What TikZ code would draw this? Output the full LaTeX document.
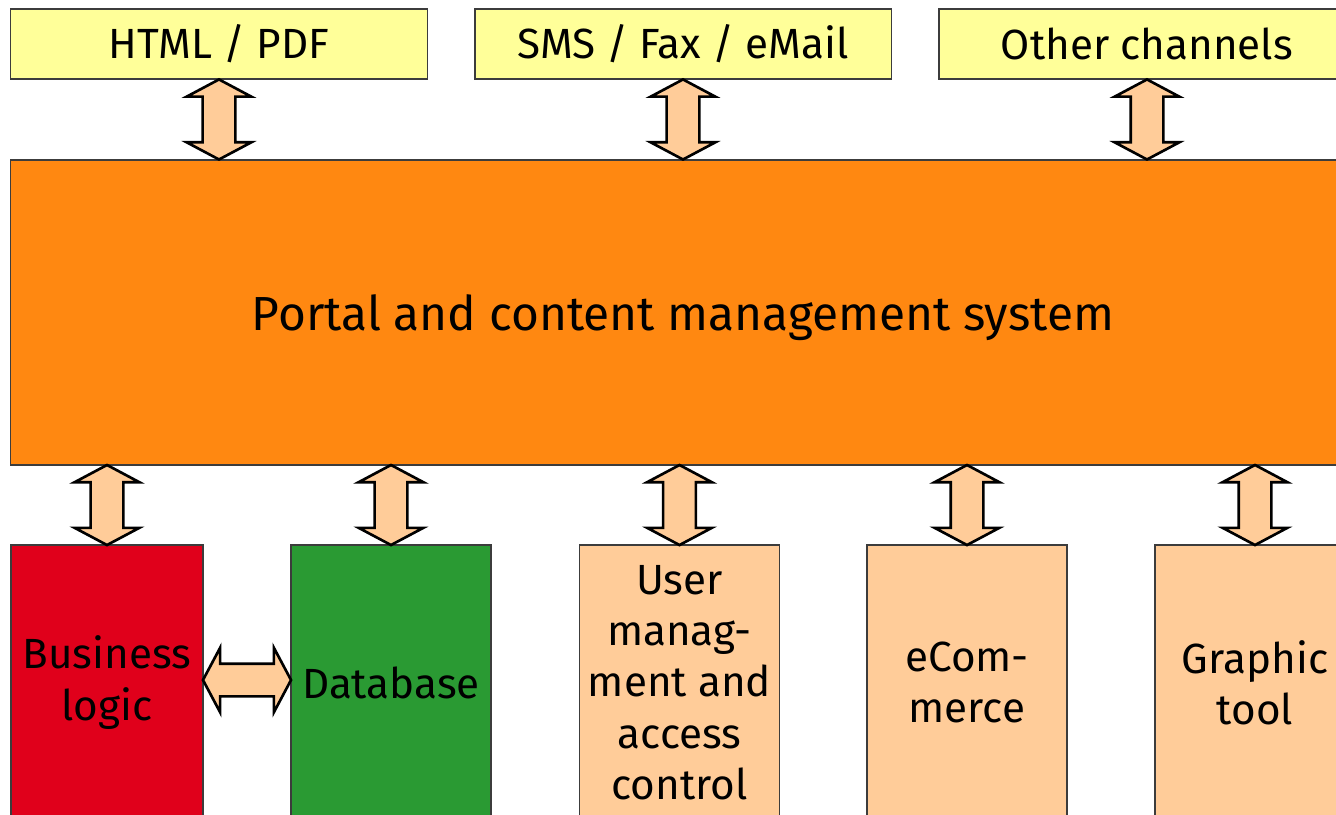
\documentclass[tikz,border=0pt]{standalone}
\usepackage{fontspec}
\setmainfont{Fira Sans}
\usetikzlibrary{shapes.arrows,calc}
\definecolor{chanyellow}{HTML}{FFFF99}
\definecolor{cmsorange}{HTML}{FF8811}
\definecolor{logicred}{HTML}{E0001B}
\definecolor{dbgreen}{HTML}{2A9A33}
\definecolor{peach}{HTML}{FFCC99}
\definecolor{edge}{HTML}{3C3C3C}
\tikzset{
  box/.style     = { draw=edge, line width=0.35pt, rectangle, inner sep=0pt, align=center,
                     font=\fontsize{12pt}{14.6pt}\selectfont },
  channel/.style = { box, fill=chanyellow, minimum width=4.16cm, minimum height=0.70cm },
  module/.style  = { box, fill=peach, minimum width=2.00cm, minimum height=2.75cm },
  dblarrow/.style = { double arrow, draw=black, line width=0.75pt, fill=peach,
                     inner xsep=0pt, inner ysep=0.15cm,
                     minimum width=0.64cm, double arrow head extend=0.16cm,
                     double arrow tip angle=124, minimum height=#1 },
}

\begin{document}
\begin{tikzpicture}[x=0.01cm, y=-0.01cm]
    \fill[white] (0,0) rectangle (1336,814);
    \clip (0,0) rectangle (1336,814);

    % output channels
    \node[channel] (html)  at (219,44)  {HTML / PDF};
    \node[channel] (sms)   at (683,44)  {SMS / Fax / eMail};
    \node[channel] (other) at (1147,44) {Other channels};

    % central system
    \node[box, fill=cmsorange, minimum width=13.44cm, minimum height=3.05cm, text depth=0pt,
          font=\fontsize{13.6pt}{16pt}\selectfont] (cms) at (683,312.5)
        {Portal and content management system};

    % back end modules
    \node[module, fill=logicred, minimum width=1.92cm] (logic) at (107,682.5) {Business\\logic};
    \node[module, fill=dbgreen]  (db)      at (391,682.5)  {Database};
    \node[module]                (users)   at (679.5,682.5) {User\\manag-\\ment and\\access\\control};
    \node[module]                (ecom)    at (967,682.5)  {eCom-\\merce};
    \node[module]                (graphic) at (1255,682.5) {Graphic\\tool};

    % arrows channels <-> system
    \foreach \n in {html,sms,other}
      \path (\n.south) -- (\n.south |- cms.north)
        node[midway, dblarrow=0.8cm, rotate=90] {};

    % arrows system <-> modules
    \foreach \n in {logic,db,users,ecom,graphic}
      \path (\n.north) -- (\n.north |- cms.south)
        node[midway, dblarrow=0.8cm, rotate=90] {};

    \path (logic.east |- 0,680) -- (db.west |- 0,680)
        node[midway, dblarrow=0.88cm] {};
\end{tikzpicture}
\end{document}
